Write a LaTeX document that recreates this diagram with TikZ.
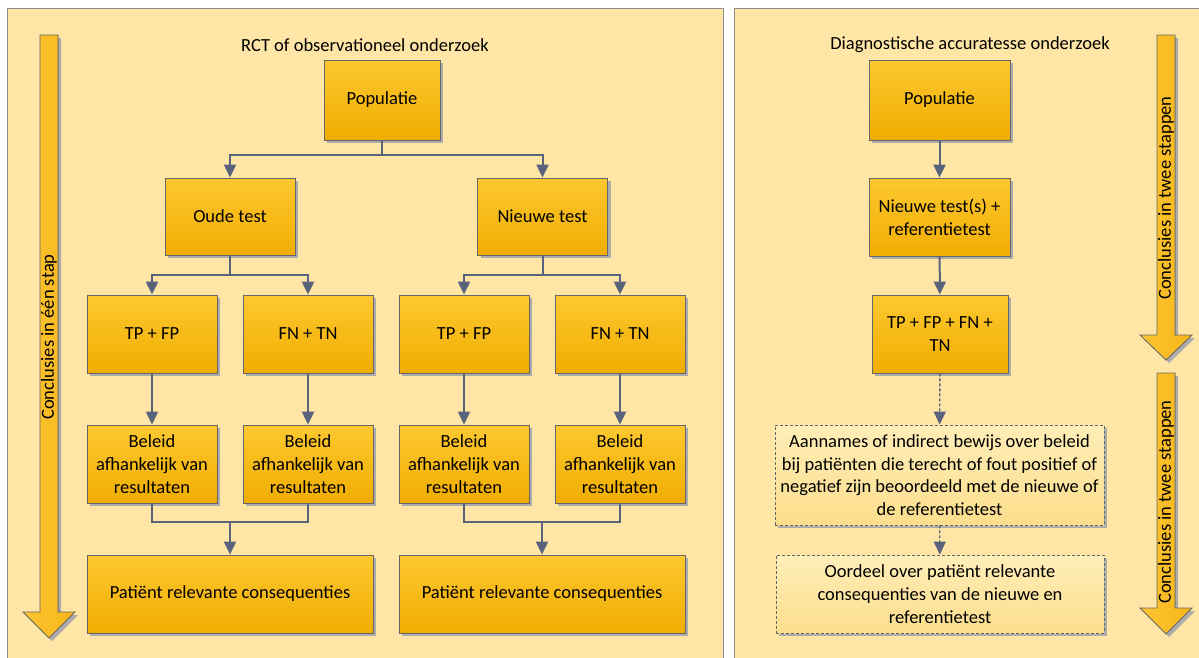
\documentclass[tikz,border=0pt]{standalone}
\usepackage{fontspec}
\setmainfont{Carlito}
\usepackage{tikz}
\usetikzlibrary{arrows.meta,shadows,calc,positioning}

\definecolor{panelfill}{RGB}{255,230,166}
\definecolor{panelline}{RGB}{140,140,140}
\definecolor{boxtop}{RGB}{253,200,48}
\definecolor{boxbot}{RGB}{240,173,0}
\definecolor{dashtop}{RGB}{255,238,184}
\definecolor{dashbot}{RGB}{252,222,140}
\definecolor{connline}{RGB}{90,99,124}
\definecolor{bigarrow}{RGB}{247,182,24}
\definecolor{bigarrowl}{RGB}{252,196,50}

\tikzset{
  panel/.style={
    draw = panelline,
    fill = panelfill,
    line width = 1pt
  },
  box/.style={
    shape = rectangle,
    draw = gray!80!black,
    line width = 0.8pt,
    top color = boxtop,
    bottom color = boxbot,
    align = center,
    inner sep = 2pt,
    drop shadow = {shadow xshift=3pt, shadow yshift=-3pt, fill=gray!65, opacity=1}
  },
  dashbox/.style={
    box,
    dashed,
    dash pattern = on 3pt off 2pt,
    top color = dashtop,
    bottom color = dashbot
  },
  conn/.style={
    draw = connline,
    line width = 2pt,
    -{Triangle[width=12pt,length=13pt]}
  },
  plain/.style={
    draw = connline,
    line width = 2pt
  },
  dotconn/.style={
    conn,
    line width = 1.4pt,
    dash pattern = on 3pt off 2pt
  },
  arrowtext/.style={
    rotate = 90,
    inner sep = 0pt
  },
  bigarr/.style={
    draw = gray!80!black,
    line width = 0.8pt,
    left color = bigarrowl,
    right color = bigarrow,
    drop shadow = {shadow xshift=3pt, shadow yshift=-3pt, fill=gray!65, opacity=1}
  },
  title/.style={
    inner sep = 1pt
  }
}

\begin{document}
\begin{tikzpicture}[x=1pt, y=-1pt, font=\fontsize{18.5}{22.7}\selectfont]
    \useasboundingbox (0,0) rectangle (1199,657);
    \fill[white] (0,0) rectangle (1199,657);
    % panels
    \draw[panel] (7,8) rectangle (723,670);
    \draw[panel] (734,8) rectangle (1210,670);

    % big arrows
    \def\shw{9}
    \def\hdw{26}
    \filldraw[bigarr] (49-\shw,35) -- (49+\shw,35) -- (49+\shw,612) -- (49+\hdw,612)
        -- (49,638) -- (49-\hdw,612) -- (49-\shw,612) -- cycle;
    \filldraw[bigarr] (1166-\shw,35) -- (1166+\shw,35) -- (1166+\shw,335) -- (1166+\hdw,335)
        -- (1166,360) -- (1166-\hdw,335) -- (1166-\shw,335) -- cycle;
    \filldraw[bigarr] (1166-\shw,373) -- (1166+\shw,373) -- (1166+\shw,608) -- (1166+\hdw,608)
        -- (1166,634) -- (1166-\hdw,608) -- (1166-\shw,608) -- cycle;
    \node[arrowtext] (stap1) at (49,337) {Conclusies in één stap};
    \node[arrowtext] (stap2a) at (1166,198) {Conclusies in twee stappen};
    \node[arrowtext] (stap2b) at (1166,502) {Conclusies in twee stappen};

    % left: RCT
    \node[title] (titleL) at (365,45) {RCT of observationeel onderzoek};
    \node[box, minimum width=116pt, minimum height=80pt] (popL) at (382,100) {Populatie};
    \node[box, minimum width=130pt, minimum height=77pt] (oude) at (230,216.5) {Oude test};
    \node[box, minimum width=130pt, minimum height=77pt] (nieuw) at (542.5,216.5) {Nieuwe test};
    \node[box, minimum width=130pt, minimum height=78pt] (tpA) at (152,334) {TP + FP};
    \node[box, minimum width=130pt, minimum height=78pt] (fnA) at (308,334) {FN + TN};
    \node[box, minimum width=130pt, minimum height=78pt] (tpB) at (464,334) {TP + FP};
    \node[box, minimum width=130pt, minimum height=78pt] (fnB) at (620,334) {FN + TN};
    \node[box, minimum width=130pt, minimum height=78pt] (belA) at (152,464) {Beleid\\afhankelijk van\\resultaten};
    \node[box, minimum width=130pt, minimum height=78pt] (belB) at (308,464) {Beleid\\afhankelijk van\\resultaten};
    \node[box, minimum width=130pt, minimum height=78pt] (belC) at (464,464) {Beleid\\afhankelijk van\\resultaten};
    \node[box, minimum width=130pt, minimum height=78pt] (belD) at (620,464) {Beleid\\afhankelijk van\\resultaten};
    \node[box, minimum width=286pt, minimum height=78pt] (patA) at (230,594) {Patiënt relevante consequenties};
    \node[box, minimum width=286pt, minimum height=78pt] (patB) at (542,594) {Patiënt relevante consequenties};

    \draw[conn] (popL.south) -- ++(0,15) -| (oude.north);
    \draw[conn] (popL.south) -- ++(0,15) -| (nieuw.north);
    \draw[conn] (oude.south) -- ++(0,20) -| (tpA.north);
    \draw[conn] (oude.south) -- ++(0,20) -| (fnA.north);
    \draw[conn] (nieuw.south) -- ++(0,20) -| (tpB.north);
    \draw[conn] (nieuw.south) -- ++(0,20) -| (fnB.north);
    \draw[conn] (tpA) -- (belA);
    \draw[conn] (fnA) -- (belB);
    \draw[conn] (tpB) -- (belC);
    \draw[conn] (fnB) -- (belD);
    \draw[plain] (belA.south) -- ++(0,19) -| (belB.south);
    \draw[plain] (belC.south) -- ++(0,19) -| (belD.south);
    \coordinate (joinA) at ($(belA.south)!.5!(belB.south)+(0,19)$);
    \coordinate (joinB) at ($(belC.south)!.5!(belD.south)+(0,19)$);
    \draw[conn] (joinA) -- (patA.north);
    \draw[conn] (joinB) -- (patB.north);

    % right: diagnostische accuratesse
    \node[title] (titleR) at (970,45) {Diagnostische accuratesse onderzoek};
    \node[box, minimum width=141pt, minimum height=80pt] (popR) at (939.5,100) {Populatie};
    \node[box, minimum width=141pt, minimum height=78pt] (nieuwR) at (939.5,217) {Nieuwe test(s) +\\referentietest};
    \node[box, minimum width=136pt, minimum height=78pt] (allR) at (940,334) {TP + FP + FN +\\TN};
    \node[dashbox, minimum width=329pt, minimum height=100pt] (aann) at (939.5,475)
        {Aannames of indirect bewijs over beleid\\bij patiënten die terecht of fout positief of\\negatief zijn beoordeeld met de nieuwe of\\de referentietest};
    \node[dashbox, minimum width=328pt, minimum height=78pt] (oord) at (940,594)
        {Oordeel over patiënt relevante\\consequenties van de nieuwe en\\referentietest};

    \draw[conn] (popR) -- (nieuwR);
    \draw[conn] (nieuwR) -- (allR);
    \draw[dotconn] (allR) -- (aann);
    \draw[dotconn] (aann) -- (oord);
\end{tikzpicture}
\end{document}
